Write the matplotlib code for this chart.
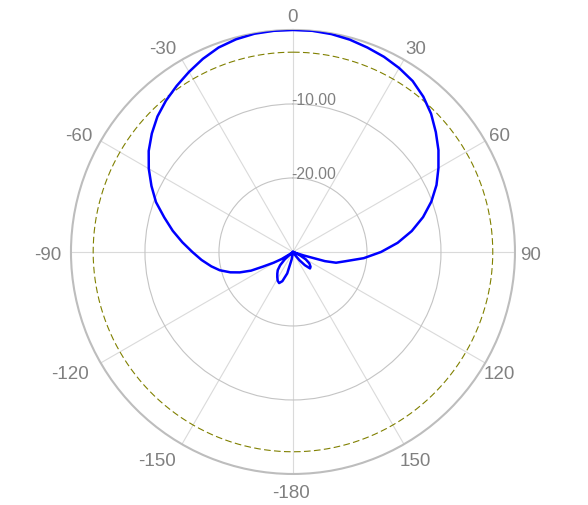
import numpy as np
import matplotlib
matplotlib.use('Agg')
import matplotlib.pyplot as plt

# radiation pattern (angle in degrees, gain in dB)
angles_deg = [-180, -175, -170, -165, -160, -156, -152, -148, -144, -140,
              -136, -132, -128, -125, -122, -119, -116, -114, -111, -108,
              -104, -100, -95, -90, -85, -80, -75, -70, -65, -60,
              -55, -50, -45, -40, -35, -30, -25, -20, -15, -10,
              -5, 0, 5, 10, 15, 20, 25, 30, 35, 40,
              45, 50, 55, 60, 65, 70, 75, 80, 85, 90,
              95, 100, 104, 106, 108, 111, 115, 120, 125, 130,
              134, 138, 142, 146, 150, 160, 170, 180]
gain_db = [-30, -30, -29.0, -27.0, -25.8, -25.4, -25.6, -26.0, -26.4, -26.8,
           -27.5, -28.5, -29.8, -29.5, -28.2, -27.0, -25.5, -23.8, -22.3, -21.1,
           -19.8, -18.8, -17.6, -16.4, -15.0, -13.5, -12.0, -10.3, -8.9, -7.5,
           -6.2, -5.1, -4.1, -3.3, -2.6, -1.9, -1.2, -0.6, -0.25, -0.05,
           0.0, 0.0, 0.0, -0.1, -0.3, -0.6, -0.9, -1.3, -1.8, -2.6,
           -3.6, -4.8, -6.0, -7.3, -8.6, -10.1, -11.8, -13.7, -15.8, -18.1,
           -20.4, -22.8, -24.0, -25.5, -28.5, -29.8, -29.0, -28.0, -27.3, -26.9,
           -26.8, -27.6, -28.6, -29.5, -30, -30, -30, -30]

ref_level = -3          # dashed reference circle
r_min, r_max = -30, 0
ring_values = [-20, -10]
ring_labels = ['-20.00', '-10.00']
theta_ticks = [0, 30, 60, 90, 120, 150, 180, 210, 240, 270, 300, 330]
theta_labels = ['0', '30', '60', '90', '120', '150', '-180',
                '-150', '-120', '-90', '-60', '-30']

grey_txt = '#808080'
lab_size = 13.5          # pt
px = 100 / 72.0          # pixels per point

# small horizontal nudges (px) so labels sit where the reference has them
label_nudge = {'30': 4, '150': 3, '-180': -2, '-150': -17, '-120': -17,
               '-90': -7, '-60': -8, '-30': -11}

fig = plt.figure(figsize=(5.88, 5.06), dpi=100)
ax = fig.add_axes([0.1207, 0.0613, 0.7551, 0.8775], projection='polar')
ax.set_theta_zero_location('N')
ax.set_theta_direction(-1)
ax.set_ylim(r_min, r_max)

# pattern
ax.plot(np.radians(angles_deg), gain_db, color='#0000ff', lw=1.8, zorder=5)

# -3 dB reference circle
circ = np.linspace(0, 2 * np.pi, 721)
ax.plot(circ, np.full_like(circ, ref_level), color='#808000', lw=0.8,
        dashes=(6, 3), zorder=4)

# grid
ax.set_yticks(ring_values)
ax.set_yticklabels([])
ax.yaxis.grid(True, color='#c4c4c4', lw=0.8)
ax.set_xticks(np.radians(theta_ticks))
ax.set_xticklabels([])
ax.set_xticks(np.radians(np.arange(15, 360, 30)), minor=True)
ax.xaxis.grid(True, color='#dadada', lw=0.8)
ax.tick_params(axis='x', which='major', direction='in', length=7.5, width=1.5,
               color='#bdbdbd')
ax.tick_params(axis='x', which='minor', direction='in', length=4, width=1.0,
               color='#bdbdbd')
ax.spines['polar'].set_color('#bdbdbd')
ax.spines['polar'].set_linewidth(1.5)

# angle labels, centred on the ray ~16 px outside the rim
cap = 0.716 * lab_size * px
for t, lab in zip(theta_ticks, theta_labels):
    a = np.radians(t)
    dist = 16
    dx = dist * np.sin(a) + label_nudge.get(lab, 0)
    dy = dist * np.cos(a)
    ax.annotate(lab, xy=(a, r_max), xytext=(dx, dy - cap / 2),
                textcoords='offset pixels', ha='center', va='baseline',
                fontsize=lab_size, color=grey_txt, family='Liberation Sans',
                annotation_clip=False)

for v, lab in zip(ring_values, ring_labels):
    ax.annotate(lab, xy=(0, v), xytext=(-2, 0), textcoords='offset pixels',
                ha='left', va='baseline', fontsize=11.3, color=grey_txt,
                family='Liberation Sans', zorder=6)

fig.savefig('out.png', dpi=100)
